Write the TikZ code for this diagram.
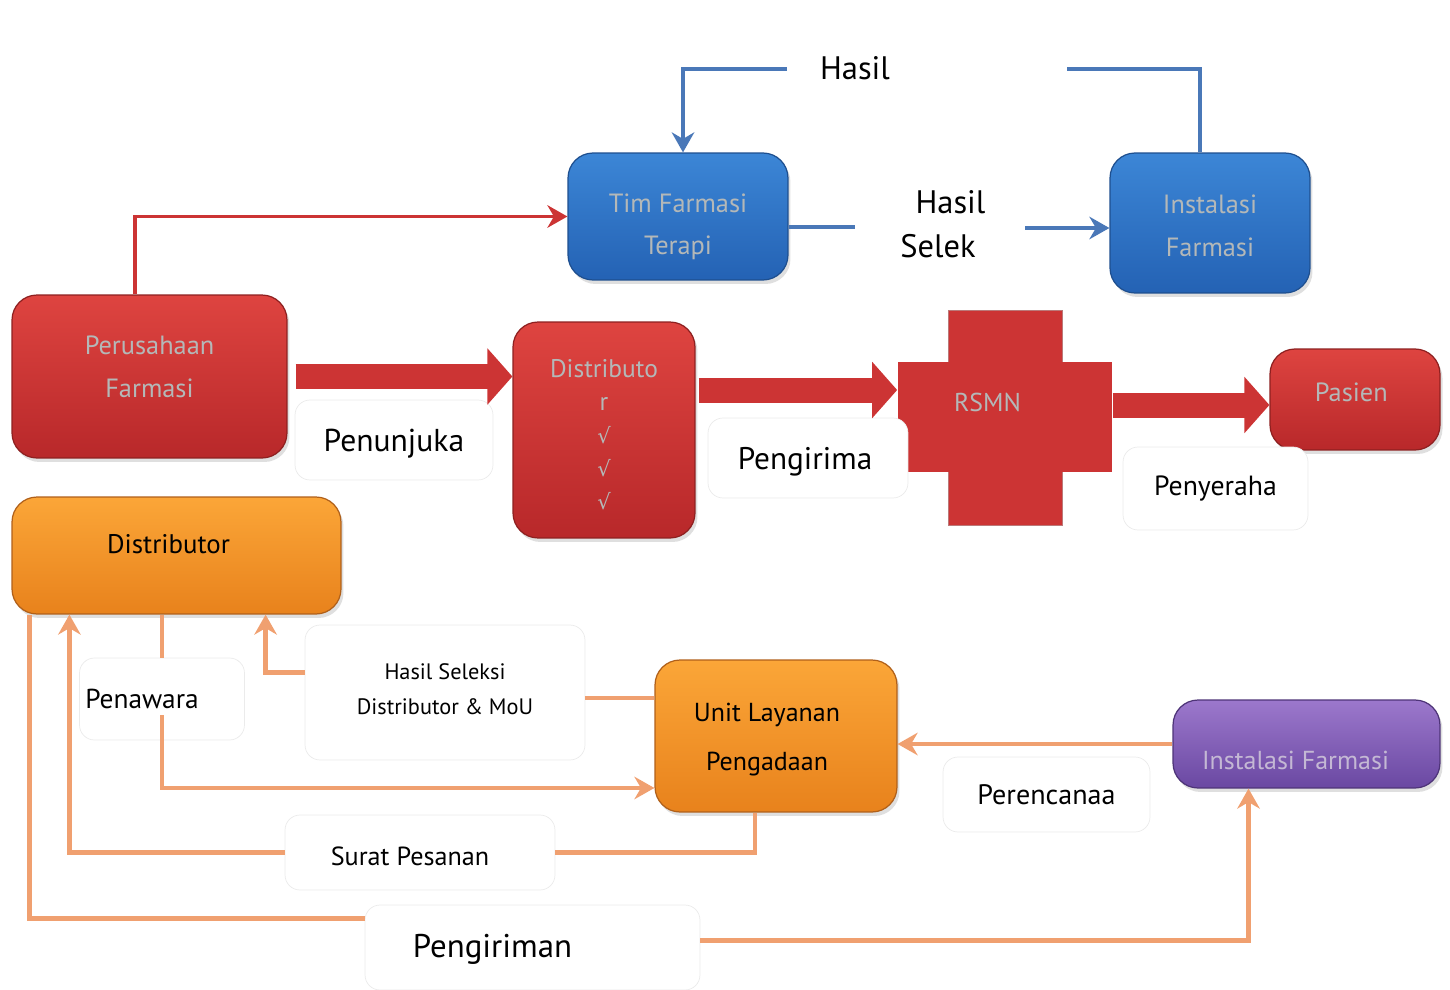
\documentclass[tikz,border=0pt]{standalone}
\usepackage{fontspec}
\setmainfont{PT Sans}
\newfontfamily\symfont{DejaVu Sans}
\usepackage{tikz}
\usetikzlibrary{arrows.meta,positioning,calc,shadows}
\definecolor{redtop}{HTML}{DE4440}
\definecolor{redbot}{HTML}{B8282A}
\definecolor{reddark}{HTML}{8E2020}
\definecolor{redmid}{HTML}{CC3434}
\definecolor{bluetop}{HTML}{3C86D6}
\definecolor{bluebot}{HTML}{2462B4}
\definecolor{bluedark}{HTML}{1E4F8F}
\definecolor{blueline}{HTML}{4A78B8}
\definecolor{ortop}{HTML}{FBA638}
\definecolor{orbot}{HTML}{E8821C}
\definecolor{ordark}{HTML}{B0601A}
\definecolor{orline}{HTML}{F0A070}
\definecolor{purtop}{HTML}{9C78CC}
\definecolor{purbot}{HTML}{6A48A2}
\definecolor{purdark}{HTML}{4E3478}
\definecolor{boxgray}{HTML}{B4B8B8}
\definecolor{purtext}{HTML}{C4B8D4}
\newcommand{\liftlines}[2]{\raisebox{#1}[0pt][0pt]{\begin{tabular}{@{}c@{}}#2\end{tabular}}}
\newcommand{\liftline}[2]{\raisebox{#1}[0pt][0pt]{#2}}
\newcommand{\tick}{{\symfont\fontsize{12}{18}\selectfont √}}
\tikzset{box/.style={rounded corners=0.5cm,line width=0.7pt,align=center,inner sep=0pt,
    drop shadow={opacity=0.25,shadow xshift=0.05cm,shadow yshift=-0.08cm}},
  redbox/.style={box,top color=redtop,bottom color=redbot,draw=reddark,text=boxgray},
  bluebox/.style={box,top color=bluetop,bottom color=bluebot,draw=bluedark,text=boxgray},
  orbox/.style={box,top color=ortop,bottom color=orbot,draw=ordark,text=black},
  purbox/.style={box,top color=purtop,bottom color=purbot,draw=purdark,text=purtext},
  crossbar/.style={fill=redmid,draw=reddark!60,line width=0.4pt,inner sep=0pt},
  labelbox/.style={rounded corners=0.3cm,draw=black!8,fill=white,align=center,inner sep=0pt},
  fatred/.style={draw=redmid,line width=0.5cm,-{Triangle[length=0.5cm,width=1.1cm]}},
  thinred/.style={draw=redmid,line width=2.2pt},
  thinblue/.style={draw=blueline,line width=2.4pt},
  thinor/.style={draw=orline,line width=2.8pt}}

\begin{document}
\begin{tikzpicture}[x=0.02cm, y=-0.02cm, >={Stealth[length=0.4cm,width=0.45cm]}]
\useasboundingbox (0,0) rectangle (1450,990);
    % upper boxes
    \node[redbox, minimum width=5.5cm, minimum height=3.26cm, font=\fontsize{15}{24.5}\selectfont] (perusahaan) at (149.5,376.5) {\liftlines{0.05cm}{Perusahaan\\Farmasi}};
    \node[bluebox, minimum width=4.4cm, minimum height=2.54cm, font=\fontsize{15}{24}\selectfont] (timfarmasi) at (678,216.5) {\liftlines{-0.3cm}{Tim Farmasi\\Terapi}};
    \node[bluebox, minimum width=4.0cm, minimum height=2.8cm, font=\fontsize{15}{24.5}\selectfont] (instalasi) at (1210,223) {\liftlines{-0.19cm}{Instalasi\\Farmasi}};
    \node[redbox, minimum width=3.64cm, minimum height=4.32cm, font=\fontsize{14.5}{18.8}\selectfont] (distred) at (604,430) {\liftlines{-0.27cm}{Distributo\\r\\\tick\\\tick\\\tick}};
    \node[crossbar, minimum width=2.28cm, minimum height=4.3cm] (rsmnv) at (1005,417.5) {};
    \node[crossbar, draw=none, minimum width=4.3cm, minimum height=2.2cm, text=boxgray, font=\fontsize{14.7}{18}\selectfont] (rsmn) at (1005,417) {\liftline{0.11cm}{RSMN\hspace{0.7cm}}};
    \node[redbox, minimum width=3.4cm, minimum height=2.02cm, font=\fontsize{15}{18}\selectfont] (pasien) at (1355,399.5) {\liftline{-0.04cm}{Pasien\hspace{0.15cm}}};
    % lower boxes
    \node[orbox, minimum width=6.58cm, minimum height=2.34cm, font=\fontsize{15.3}{18}\selectfont] (distorange) at (176.5,555.5) {\liftline{0.05cm}{Distributor\hspace{0.32cm}}};
    \node[orbox, minimum width=4.84cm, minimum height=3.04cm, font=\fontsize{14.8}{28}\selectfont] (ulp) at (776,736) {\liftlines{-0.13cm}{Unit Layanan\\Pengadaan}\hspace{0.36cm}};
    \node[purbox, minimum width=5.34cm, minimum height=1.76cm, font=\fontsize{14.8}{18}\selectfont] (purple) at (1306.5,744) {\liftline{-0.51cm}{Instalasi Farmasi\hspace{0.44cm}}};
    % label boxes
    \node[labelbox, minimum width=3.96cm, minimum height=1.6cm, font=\fontsize{18}{20}\selectfont] (penunjuka) at (394,440) {\liftline{-0.23cm}{Penunjuka}};
    \node[labelbox, minimum width=4.0cm, minimum height=1.6cm, font=\fontsize{17.8}{20}\selectfont] (pengirima) at (808,458) {\liftline{-0.23cm}{Pengirima\hspace{0.12cm}}};
    \node[labelbox, minimum width=3.7cm, minimum height=1.66cm, font=\fontsize{15.8}{18}\selectfont] (penyeraha) at (1215.5,488.5) {Penyeraha};
    \node[labelbox, minimum width=3.3cm, minimum height=1.64cm, font=\fontsize{15.6}{18}\selectfont] (penawara) at (162,699) {\hspace{-0.8cm}Penawara};
    \node[labelbox, minimum width=5.6cm, minimum height=2.7cm, font=\fontsize{12.7}{20}\selectfont] (hasilsel) at (445,692.5) {\liftlines{-0.05cm}{Hasil Seleksi\\Distributor \& MoU}};
    \node[labelbox, minimum width=5.4cm, minimum height=1.5cm, font=\fontsize{14.9}{18}\selectfont] (suratpesanan) at (420,852.5) {\liftline{-0.26cm}{\hspace{-0.4cm}Surat Pesanan}};
    \node[labelbox, minimum width=6.7cm, minimum height=1.7cm, font=\fontsize{18.7}{20}\selectfont] (pengiriman) at (532.5,947.5) {\liftline{-0.19cm}{Pengiriman\hspace{1.6cm}}};
    \node[labelbox, minimum width=4.14cm, minimum height=1.5cm, font=\fontsize{16}{18}\selectfont] (perencanaa) at (1046.5,794.5) {Perencanaa};
    % free texts
    \node[font=\fontsize{18.5}{20}\selectfont] (hasil) at (855,68) {Hasil};
    \node[font=\fontsize{18.5}{25}\selectfont, align=center] (hasilselek) at (938,224) {\hspace{0.5cm}Hasil\\Selek};
    \coordinate (hasilL) at (787,69);
    \coordinate (hasilR) at (1067,69);
    \coordinate (selekL) at (855,227);
    \coordinate (selekR) at (1025,228);
    % red flow
    \draw[fatred] ([xshift=0.16cm]perusahaan.east) -- (perusahaan.east -| distred.west);
    \draw[fatred] ($(distred.east)+(3,-40)$) -- ($(distred.east -| rsmn.west)+(0,-40)$);
    \draw[fatred] ($(rsmn.east)+(0,-12)$) -- ($(rsmn.east -| pasien.west)+(0,-12)$);
    \draw[thinred, ->] ([xshift=-0.29cm]perusahaan.north) |- (timfarmasi.west);
    % blue flow
    \draw[thinblue, ->] (hasilL) -| ([xshift=0.1cm]timfarmasi.north);
    \draw[thinblue] (hasilR) -| ([xshift=-0.2cm]instalasi.north);
    \draw[thinblue] (timfarmasi.east |- selekL) -- (selekL);
    \draw[thinblue, ->] (selekR) -- (selekR -| instalasi.west);
    % orange flow
    \coordinate (ulpin) at ([yshift=0.76cm]ulp.west);
    \draw[thinor] (ulpin) -- (ulpin -| hasilsel.east);
    \draw[thinor, ->] ([yshift=0.4cm]hasilsel.west) -| ([xshift=-1.52cm]distorange.south east);
    \draw[thinor] (penawara.north |- distorange.south) -- (penawara.north);
    \draw[thinor, ->] ([yshift=0.5cm]penawara.south) |- ([yshift=-1.04cm]ulp.west);
    \draw[thinor] ([xshift=-0.42cm]ulp.south) |- (suratpesanan.east);
    \draw[thinor, ->] (suratpesanan.west) -| ([xshift=1.16cm]distorange.south west);
    \draw[thinor] ([xshift=0.36cm]distorange.south west) |- ([yshift=0.58cm]pengiriman.west);
    \draw[thinor, ->] ([yshift=0.14cm]pengiriman.east) -| ([xshift=-1.16cm]purple.south);
    \draw[thinor, ->] (purple.west) -- (purple.west -| ulp.east);
\end{tikzpicture}
\end{document}
